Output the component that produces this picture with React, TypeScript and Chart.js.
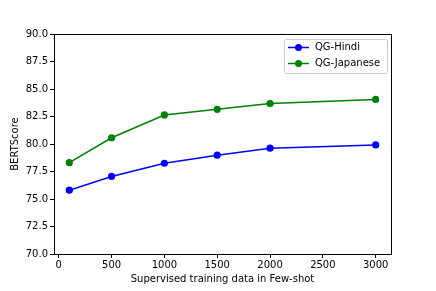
import React, { useEffect, useRef } from "react";
import { Chart, registerables } from "chart.js";

Chart.register(...registerables);

const xValues = [100, 500, 1000, 1500, 2000, 3000];
const hindi = [75.8, 77.05, 78.25, 78.98, 79.62, 79.92];
const japanese = [78.3, 80.57, 82.64, 83.15, 83.68, 84.05];
const seriesNames = ["QG-Hindi", "QG-Japanese"];
const seriesColors = ["#0000ff", "#008000"];
const xTicks = [0, 500, 1000, 1500, 2000, 2500, 3000];
const yTicks = [70, 72.5, 75, 77.5, 80, 82.5, 85, 87.5, 90];

const FONT = "'DejaVu Sans', sans-serif";

const framePlugin = {
  id: "frame",
  afterDraw(chart: any) {
    const { ctx, chartArea } = chart;
    ctx.save();
    ctx.strokeStyle = "#000";
    ctx.lineWidth = 1;
    ctx.strokeRect(
      Math.round(chartArea.left) + 0.5,
      Math.round(chartArea.top) + 0.5,
      Math.round(chartArea.right - chartArea.left),
      Math.round(chartArea.bottom - chartArea.top)
    );
    // legend
    const bx = 284.5, by = 39.5, bw = 103, bh = 34;
    ctx.fillStyle = "rgba(255,255,255,0.8)";
    ctx.strokeStyle = "#cccccc";
    ctx.lineWidth = 1;
    ctx.beginPath();
    const r = 2;
    ctx.moveTo(bx + r, by);
    ctx.lineTo(bx + bw - r, by);
    ctx.quadraticCurveTo(bx + bw, by, bx + bw, by + r);
    ctx.lineTo(bx + bw, by + bh - r);
    ctx.quadraticCurveTo(bx + bw, by + bh, bx + bw - r, by + bh);
    ctx.lineTo(bx + r, by + bh);
    ctx.quadraticCurveTo(bx, by + bh, bx, by + bh - r);
    ctx.lineTo(bx, by + r);
    ctx.quadraticCurveTo(bx, by, bx + r, by);
    ctx.closePath();
    ctx.fill();
    ctx.stroke();
    ctx.font = `10px ${FONT}`;
    ctx.textBaseline = "middle";
    seriesNames.forEach((name, i) => {
      const y = 47.5 + i * 16;
      ctx.strokeStyle = seriesColors[i];
      ctx.lineWidth = 1.5;
      ctx.beginPath();
      ctx.moveTo(288, y);
      ctx.lineTo(309, y);
      ctx.stroke();
      ctx.fillStyle = seriesColors[i];
      ctx.beginPath();
      ctx.arc(298.5, y, 3.5, 0, Math.PI * 2);
      ctx.fill();
      ctx.fillStyle = "#000";
      ctx.textAlign = "left";
      ctx.fillText(name, 315, y);
    });
    ctx.restore();
  },
};

export default function App() {
  const ref = useRef<HTMLCanvasElement>(null);
  useEffect(() => {
    document.body.style.margin = "0";
    const chart = new Chart(ref.current!, {
      type: "line",
      data: {
        datasets: [hindi, japanese].map((vals, i) => ({
          label: seriesNames[i],
          data: xValues.map((x, j) => ({ x, y: vals[j] })),
          borderColor: seriesColors[i],
          backgroundColor: seriesColors[i],
          borderWidth: 1.5,
          pointRadius: 3.6,
          pointBorderWidth: 0,
          pointBackgroundColor: seriesColors[i],
          tension: 0,
        })),
      },
      options: {
        animation: false,
        responsive: false,
        maintainAspectRatio: false,
        layout: { padding: { top: 34, right: 45, left: 0, bottom: 0 } },
        plugins: { legend: { display: false }, tooltip: { enabled: false } },
        scales: {
          x: {
            type: "linear",
            min: -45,
            max: 3145,
            afterBuildTicks: (axis: any) => {
              axis.ticks = xTicks.map((v) => ({ value: v }));
            },
            afterFit: (axis: any) => {
              axis.height = 37;
            },
            grid: {
              drawOnChartArea: false,
              drawTicks: true,
              tickLength: 4,
              color: "#000",
            },
            border: { display: true, color: "#000" },
            ticks: {
              color: "#000",
              font: { family: FONT, size: 10 },
              padding: 1,
              maxRotation: 0,
              autoSkip: false,
              callback: (v: any) => String(v),
            },
            title: {
              display: true,
              text: "Supervised training data in Few-shot",
              color: "#000",
              font: { family: FONT, size: 10 },
              padding: { top: 0, bottom: 6 },
            },
          },
          y: {
            type: "linear",
            min: 70,
            max: 90,
            afterBuildTicks: (axis: any) => {
              axis.ticks = yTicks.map((v) => ({ value: v }));
            },
            afterFit: (axis: any) => {
              axis.width = 54;
            },
            grid: {
              drawOnChartArea: false,
              drawTicks: true,
              tickLength: 4,
              color: "#000",
            },
            border: { display: true, color: "#000" },
            ticks: {
              color: "#000",
              font: { family: FONT, size: 10 },
              padding: 2,
              autoSkip: false,
              callback: (v: any) => Number(v).toFixed(1),
            },
            title: {
              display: true,
              text: "BERTScore",
              color: "#000",
              font: { family: FONT, size: 10 },
              padding: { top: 9, bottom: 0 },
            },
          },
        },
      },
      plugins: [framePlugin],
    } as any);
    return () => chart.destroy();
  }, []);
  return (
    <div style={{ width: 436, height: 291 }}>
      <canvas ref={ref} width={436} height={291} style={{ display: "block" }} />
    </div>
  );
}
